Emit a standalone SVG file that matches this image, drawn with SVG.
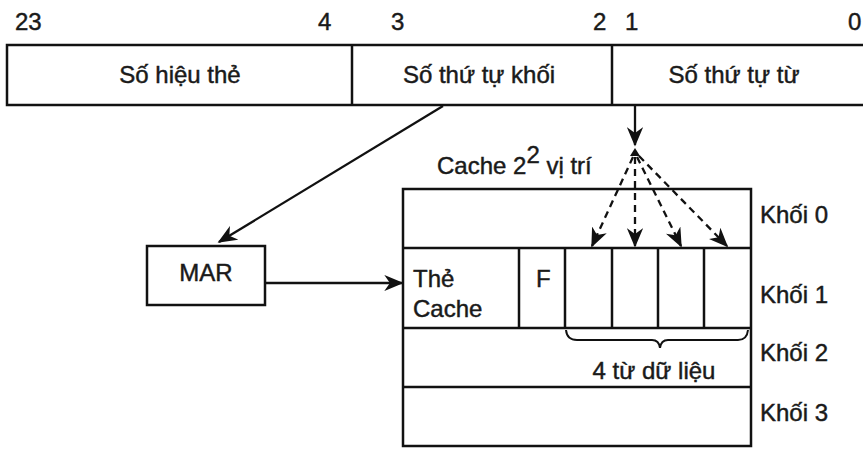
<svg xmlns="http://www.w3.org/2000/svg" width="863" height="449" viewBox="0 0 863 449">
<defs>
<style>
text{font-family:"Liberation Sans",Arial,sans-serif;font-size:24px;fill:#1a1a1a;stroke:#1a1a1a;stroke-width:0.45}
.box{fill:none;stroke:#111;stroke-width:2.5}
.ln{fill:none;stroke:#111;stroke-width:2.5}
.conn{fill:none;stroke:#111;stroke-width:2.3}
.dash{fill:none;stroke:#111;stroke-width:2.3;stroke-dasharray:7 5}
.mid{text-anchor:middle}
</style>
<marker id="ah" viewBox="0 0 12 10" refX="11" refY="5" markerWidth="8.5" markerHeight="7" markerUnits="strokeWidth" orient="auto">
<path d="M0,0 L12,5 L0,10 L3.5,5 z" fill="#111"/>
</marker>
</defs>
<rect width="863" height="449" fill="#fff"/>
<g id="bits">
<text x="15" y="30">23</text>
<text x="318" y="30">4</text>
<text x="391" y="30">3</text>
<text x="593" y="30">2</text>
<text x="625" y="30">1</text>
<text x="848" y="30">0</text>
</g>
<g id="register">
<path class="box" d="M870,45 H7 V105 H870"/>
<line class="ln" x1="352" y1="45" x2="352" y2="105"/>
<line class="ln" x1="612" y1="45" x2="612" y2="105"/>
<text class="mid" x="180" y="83">Số hiệu thẻ</text>
<text class="mid" x="479" y="83">Số thứ tự khối</text>
<text class="mid" x="734" y="83">Số thứ tự từ</text>
</g>
<g id="mar">
<rect class="box" x="147" y="246" width="118" height="59"/>
<text class="mid" x="206" y="281">MAR</text>
</g>
<g id="cache">
<rect class="box" x="403" y="189" width="348" height="257"/>
<line class="ln" x1="403" y1="248" x2="751" y2="248"/>
<line class="ln" x1="403" y1="328" x2="751" y2="328"/>
<line class="ln" x1="403" y1="387" x2="751" y2="387"/>
<line class="ln" x1="519" y1="248" x2="519" y2="328"/>
<line class="ln" x1="565" y1="248" x2="565" y2="328"/>
<line class="ln" x1="612" y1="248" x2="612" y2="328"/>
<line class="ln" x1="658" y1="248" x2="658" y2="328"/>
<line class="ln" x1="704" y1="248" x2="704" y2="328"/>
<text x="413" y="287">Thẻ</text>
<text x="413" y="317">Cache</text>
<text x="536" y="287">F</text>
<path fill="none" stroke="#111" stroke-width="2" d="M566,330 Q567,340 577,340 H652 Q659,340 660,348 Q661,340 668,340 H738 Q747,340 748,330"/>
<text class="mid" x="654" y="379">4 từ dữ liệu</text>
<text x="437" y="174">Cache 2<tspan dy="-11">2</tspan><tspan dy="11"> vị trí</tspan></text>
</g>
<g id="blocks">
<text x="760" y="223">Khối 0</text>
<text x="760" y="303">Khối 1</text>
<text x="760" y="361">Khối 2</text>
<text x="760" y="421">Khối 3</text>
</g>
<g id="connectors">
<line class="conn" x1="443" y1="106" x2="219" y2="242" marker-end="url(#ah)"/>
<line class="conn" x1="265" y1="283" x2="402" y2="283" marker-end="url(#ah)"/>
<line class="conn" x1="635" y1="106" x2="635" y2="145" marker-end="url(#ah)"/>
<path d="M635,148 L630,156 L640,156 z" fill="#111"/>
<line class="dash" x1="633" y1="157" x2="592" y2="246" marker-end="url(#ah)"/>
<line class="dash" x1="635" y1="157" x2="635" y2="246" marker-end="url(#ah)"/>
<line class="dash" x1="637" y1="157" x2="681" y2="246" marker-end="url(#ah)"/>
<line class="dash" x1="639" y1="156" x2="727" y2="246" marker-end="url(#ah)"/>
</g>
</svg>
